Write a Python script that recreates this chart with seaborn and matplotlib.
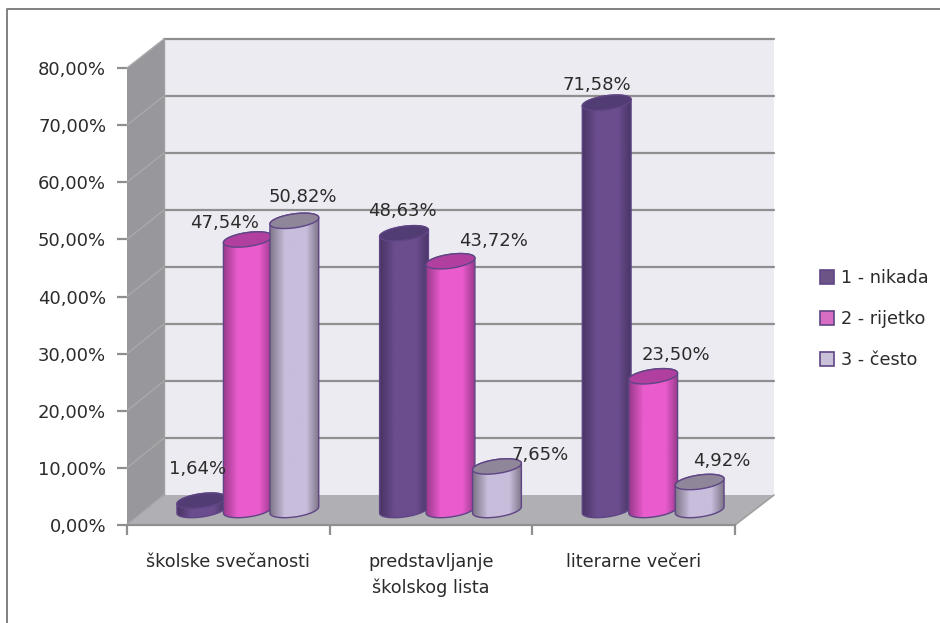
import numpy as np
import pandas as pd
import matplotlib
matplotlib.use("Agg")
import matplotlib.pyplot as plt
import seaborn as sns
from matplotlib.colors import LinearSegmentedColormap
from matplotlib.patches import Polygon
from matplotlib.transforms import Affine2D

categories = ["školske svečanosti", "predstavljanje\nškolskog lista", "literarne večeri"]
series_names = ["1 - nikada", "2 - rijetko", "3 - često"]
nikada = [1.64, 48.63, 71.58]
rijetko = [47.54, 43.72, 23.50]
cesto = [50.82, 7.65, 4.92]
y_ticks = [0, 10, 20, 30, 40, 50, 60, 70, 80]

# colours per series: body edge, body middle, top cap, outline
body_mid = ["#6b4d8e", "#ea5ccd", "#c8bddb"]
body_edge = ["#4a3566", "#9a3a8c", "#7f7689"]
cap_col = ["#523c74", "#b03f9f", "#8f8699"]
line_col = "#5f4585"
grey = "#8f8f8f"

# pixel positions of the fake 3d box
W, H = 940, 623
fx0, fx1, fy0, fy80 = 127, 735, 525, 68
bx0, bx1, by0, by80 = 164, 774, 495, 39
bar_base, bar_scale = 510, 5.69
cap_h, cap_tilt = 7, 3.2

# label offsets from top of bar, in pixels (dx, dy) per series
label_off = [
    [(-4, 31.7), (-2, 22.3), (-9.5, 17.7)],
    [(-23.5, 16.5), (42.5, 20.2), (23, 21.3)],
    [(9, 23.8), (43, 11.5), (22.5, 21)],
]

sns.set_theme(style="white")
plt.rcParams["font.family"] = ["DejaVu Sans"]
txt = "#2b2b2b"

fig = plt.figure(figsize=(W / 100, H / 100), dpi=100, facecolor="white")
px = Affine2D().scale(1, -1).translate(0, H)  # pixel coords, y down

# picture border, open on the right and at the bottom
fig.add_artist(plt.Line2D([7, 7, 940], [623, 9, 9], transform=px, color="#808080", lw=1.4))

ax = fig.add_axes([fx0 / W, 1 - fy0 / H, (fx1 - fx0) / W, (fy0 - fy80) / H])
ax.set_xlim(-0.5, 2.5)
ax.set_ylim(0, 80)
ax.patch.set_visible(False)

# walls
ax.add_patch(Polygon([(bx0, by80), (bx1, by80), (bx1, by0), (bx0, by0)], transform=px, fc="#ecebf1", ec="none", clip_on=False, zorder=0))
ax.add_patch(Polygon([(fx0, fy80), (bx0, by80), (bx0, by0), (fx0, fy0)], transform=px, fc="#98979b", ec="none", clip_on=False, zorder=0))
ax.add_patch(Polygon([(fx0, fy0), (bx0, by0), (bx1, by0), (fx1, fy0)], transform=px, fc="#b0afb3", ec="none", clip_on=False, zorder=0))
for v in y_ticks:
    yb = by0 + (by80 - by0) * v / 80
    yf = fy0 + (fy80 - fy0) * v / 80
    if v > 0:
        ax.plot([bx0, bx1], [yb, yb], transform=px, color=grey, lw=1.6, clip_on=False, zorder=1)
    ax.plot([fx0, bx0], [yf, yb], transform=px, color="#a9a9ab", lw=1, clip_on=False, zorder=1)
ax.plot([fx1, bx1], [fy0, by0], transform=px, color="#a0a0a0", lw=1.2, clip_on=False, zorder=1)
ax.plot([bx0, bx0], [by80, by0], transform=px, color="#a0a0a0", lw=1, clip_on=False, zorder=1)

ax.set_yticks(y_ticks)
ax.set_yticklabels([f"{v:.2f}%".replace(".", ",") for v in y_ticks], fontsize=13, color=txt)
ax.set_xticks([-0.5, 0.5, 1.5, 2.5])
ax.set_xticklabels([])
ax.set_xticks([0, 1, 2], minor=True)
ax.set_xticklabels(categories, minor=True, fontsize=12.7, color=txt, linespacing=1.5)
ax.tick_params(axis="y", length=7, width=1.6, color=grey, pad=8, left=True)
ax.tick_params(axis="x", which="major", length=7, width=1.6, color=grey, bottom=True)
ax.tick_params(axis="x", which="minor", length=0, pad=20)
for s in ["top", "right", "left"]:
    ax.spines[s].set_visible(False)
ax.spines["bottom"].set_color(grey)
ax.spines["bottom"].set_linewidth(1.6)

# bars sit on their own axes, shifted onto the floor
ov_top = bar_base - 85 * bar_scale
ov_bot = bar_base + 5 * bar_scale
ov = fig.add_axes([(fx0 + 19.5) / W, 1 - ov_bot / H, (fx1 - fx0) / W, (ov_bot - ov_top) / H])
ov.patch.set_visible(False)

df = pd.DataFrame({
    "kategorija": categories * 3,
    "serija": np.repeat(series_names, 3),
    "vrijednost": nikada + rijetko + cesto,
})
sns.barplot(data=df, x="kategorija", y="vrijednost", hue="serija", hue_order=series_names,
            palette=body_mid, width=0.688, gap=0, linewidth=0, ax=ov, legend=True, zorder=2)
ov.set_xlim(-0.5, 2.5)
ov.set_ylim(-5, 85)
ov.axis("off")

t_low = np.linspace(np.pi, 2 * np.pi, 40)
t_up = np.linspace(0, np.pi, 40)
t_all = np.linspace(0, 2 * np.pi, 80)


def ring(cx, cy, a, t):
    x = cx + a * np.cos(t)
    y = cy + (cap_h * np.sin(t) + cap_tilt * np.cos(t)) / bar_scale
    return np.column_stack([x, y])


for i, cont in enumerate(ov.containers):
    cmap = LinearSegmentedColormap.from_list(
        f"c{i}", [(0, body_edge[i]), (0.3, body_mid[i]), (0.75, body_mid[i]), (1, body_edge[i])])
    grad = np.linspace(0, 1, 64).reshape(1, -1)
    for j, bar in enumerate(cont):
        val = bar.get_height()
        cx = bar.get_x() + bar.get_width() / 2
        a = bar.get_width() / 2 * 1.05
        z = 3 + i + 0.1
        shape = np.vstack([ring(cx, 0, a, t_low), ring(cx, val, a, t_up)])
        im = ov.imshow(grad, extent=(cx - a, cx + a, -3, val + 3), aspect="auto", cmap=cmap, zorder=z)
        im.set_clip_path(Polygon(shape, transform=ov.transData))
        ov.add_patch(Polygon(shape, fc="none", ec=line_col, lw=1, zorder=z + 0.1))
        ov.add_patch(Polygon(ring(cx, val, a, t_all), fc=cap_col[i], ec=line_col, lw=1, zorder=z + 0.2))
        dx, dy = label_off[i][j]
        ov.annotate(f"{val:.2f}%".replace(".", ","), (cx, val), xytext=(dx, dy), textcoords="offset pixels",
                    ha="center", va="center", fontsize=13, color=txt, zorder=10)
ov.set_xlim(-0.5, 2.5)
ov.set_ylim(-5, 85)

# legend
sns.move_legend(ov, "center left", bbox_to_anchor=(804, 319), bbox_transform=px, frameon=False,
                title=None, fontsize=12.7, labelspacing=1.3, handlelength=0.8, handleheight=0.8,
                handletextpad=0.4, labelcolor=txt)
for h in ov.get_legend().get_patches():
    h.set_edgecolor(line_col)
    h.set_linewidth(1.2)

fig.savefig("out.png", dpi=100)
